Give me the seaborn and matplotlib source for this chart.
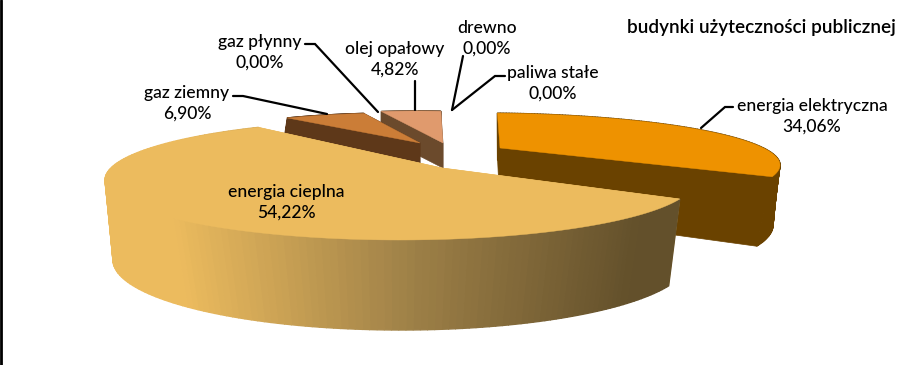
import numpy as np
import matplotlib
matplotlib.use("Agg")
import matplotlib.pyplot as plt
import seaborn as sns

categories = ["energia elektryczna", "energia cieplna", "gaz ziemny", "gaz płynny",
              "olej opałowy", "drewno", "paliwa stałe"]
shares = [34.06, 54.22, 6.90, 0.00, 4.82, 0.00, 0.00]

# ellipse of each exploded slice, in pixels: cx, cy, a, b, apex x, apex y
top_shapes = {
    "energia elektryczna": (478, 165, 302, 52, 500, 148),
    "energia cieplna": (400, 180, 295, 60, 442, 168),
    "gaz ziemny": (397, 153, 227, 40, 420, 143),
    "olej opałowy": (417, 151, 239, 40, 443, 143),
}
bottom_shapes = {
    "energia elektryczna": (473, 225, 300, 65, 500, 211),
    "energia cieplna": (401, 260, 288, 70, 440, 250),
    "gaz ziemny": (397, 172, 227, 40, 420, 163),
    "olej opałowy": (417, 176, 239, 40, 443, 168),
}
top_colors = {"energia elektryczna": "#EE9200", "energia cieplna": "#ECBB5E",
              "gaz ziemny": "#CB7D37", "olej opałowy": "#E09A6D"}
side_colors = {"energia elektryczna": "#6A4200", "energia cieplna": "#ECBB5E",
               "gaz ziemny": "#5E3819", "olej opałowy": "#6B4A2C"}

# label centres
label_pos = {
    "energia elektryczna": (812, 116),
    "energia cieplna": (286, 202),
    "gaz ziemny": (187, 103),
    "gaz płynny": (260, 52),
    "olej opałowy": (395, 59),
    "drewno": (487, 38),
    "paliwa stałe": (553, 83),
}
leaders = [
    ([733, 725, 701], [107, 107, 128]),
    ([233, 243, 327], [96, 96, 114]),
    ([305, 315, 378], [44, 44, 112]),
    ([415, 415], [81, 110]),
    ([463, 452], [56, 110]),
    ([505, 495, 452], [76, 76, 110]),
]


def project(theta, shape):
    # circle of the pie seen in perspective, centre falls on the apex
    cx, cy, a, b, ax_, ay_ = shape
    u, v = np.sin(theta), np.cos(theta)
    px, py = (ax_ - cx) / a, (cy - ay_) / b
    s = np.hypot(px, py)
    ex, ey = px / s, py / s
    par = u * ex + v * ey
    k = np.sqrt(1 - s ** 2) / (1 + s * par)
    par2 = (par + s) / (1 + s * par)
    x = par2 * ex + k * (u - par * ex)
    y = par2 * ey + k * (v - par * ey)
    return cx + a * x, cy - b * y


def draw_slice(ax, name, start, end):
    top, bottom = top_shapes[name], bottom_shapes[name]
    thetas = np.linspace(np.radians(start), np.radians(end), 160)
    tx, ty = project(thetas, top)
    bx, by = project(thetas, bottom)
    apex_t, apex_b = top[4:], bottom[4:]

    # cut faces
    for i in (0, -1):
        ax.fill([apex_t[0], tx[i], bx[i], apex_b[0]], [apex_t[1], ty[i], by[i], apex_b[1]],
                color=side_colors[name], lw=0.5)

    # rim, the big slice fades to the right
    for i in range(len(thetas) - 1):
        col = side_colors[name]
        if name == "energia cieplna":
            col = fade[int(np.clip((tx[i] - 170) / 470, 0, 1) * (len(fade) - 1))]
        ax.fill([tx[i], tx[i + 1], bx[i + 1], bx[i]], [ty[i], ty[i + 1], by[i + 1], by[i]],
                color=col, lw=1)

    ax.fill(np.r_[apex_t[0], tx], np.r_[apex_t[1], ty], color=top_colors[name], lw=0.3)


sns.set_theme(style="white")
plt.rcParams["font.family"] = ["Lato", "DejaVu Sans"]
fade = sns.blend_palette(["#ECBB5E", "#A08248", "#63502B"], 100)

fig, ax = plt.subplots(figsize=(9.04, 3.65), dpi=100)
fig.subplots_adjust(0, 0, 1, 1)
ax.set_xlim(0, 904)
ax.set_ylim(365, 0)
ax.axis("off")

# slice angles, clockwise from the top
ends = np.cumsum(shares) * 3.6
starts = np.r_[0, ends[:-1]]
angles = {c: (s, e) for c, s, e in zip(categories, starts, ends)}

for name in ["energia elektryczna", "olej opałowy", "gaz ziemny", "energia cieplna"]:
    draw_slice(ax, name, *angles[name])

for xs, ys in leaders:
    ax.plot(xs, ys, color="black", lw=1.6, solid_joinstyle="miter")

for name, share in zip(categories, shares):
    x, y = label_pos[name]
    txt = name + "\n" + f"{share:.2f}".replace(".", ",") + "%"
    ax.text(x, y, txt, ha="center", va="center", fontsize=12.6, fontweight="medium",
            color="black", linespacing=1.38)

ax.text(896, 28, "budynki użyteczności publicznej", ha="right", va="center",
        fontsize=13.6, fontweight="semibold", color="black")

# black edge on the left
ax.plot([0.5, 0.5], [0, 365], color="black", lw=2)

fig.savefig("out.png", dpi=100)
